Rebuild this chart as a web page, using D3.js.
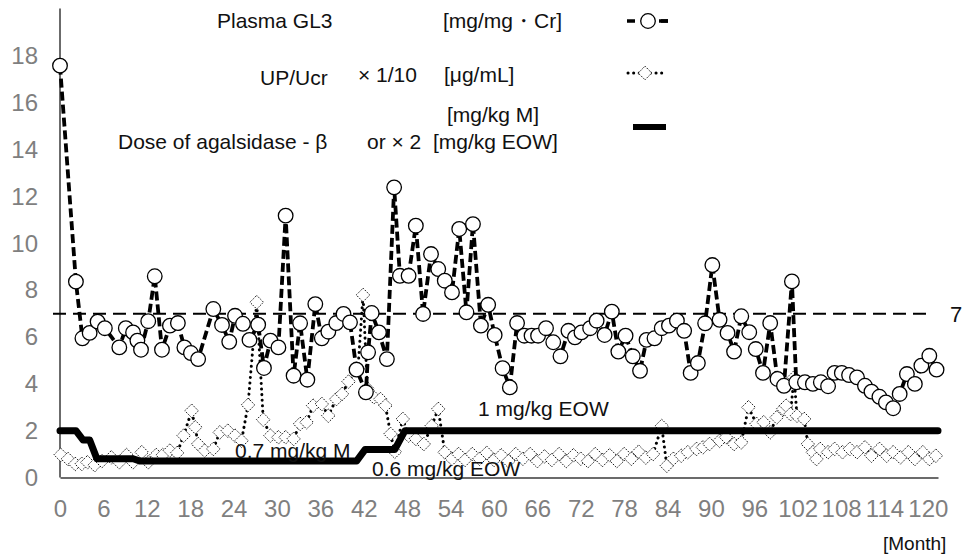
<!DOCTYPE html>
<html>
<head>
<meta charset="utf-8">
<script src="https://cdn.jsdelivr.net/npm/d3@7"></script>
<style>
  body { margin: 0; background: #fff; }
  svg text { font-family: "Liberation Sans", Arial, sans-serif; }
</style>
</head>
<body>
<svg id="chart" width="964" height="556"></svg>
<script>
// month ticks and y ticks
const monthTicks = d3.range(0, 121, 6);
const yTicks = [0, 2, 4, 6, 8, 10, 12, 14, 16, 18];
const threshold = 7;

// Plasma GL3 [month, value]
const gl3Months = [0, 2.2, 3.1, 4.1, 5.2, 6.2, 8.2, 9.1, 10.1, 10.7, 11.2, 12.2, 13.1, 14.1, 15.2, 16.3, 17.2, 18.1, 19.1,
  21.2, 22.4, 23.4, 24.2, 25.3, 26.2, 27.4, 28.2, 29.1, 30.2, 31.2, 32.3, 33.2, 34.2, 35.3, 36.2, 37.1, 38.2, 39.2, 40.1,
  41.0, 42.3, 42.6, 43.1, 44.1, 45.2, 46.2, 47.0, 48.2, 49.2, 50.2, 51.3, 52.3, 53.2, 54.2, 55.2, 56.2, 57.1, 58.2, 59.2,
  60.1, 61.2, 62.2, 63.2, 64.2, 65.2, 66.1, 67.2, 68.2, 69.2, 70.3, 71.2, 72.1, 73.3, 74.2, 75.3, 76.3, 77.2, 78.2, 79.2,
  80.2, 81.1, 82.2, 83.2, 84.2, 85.3, 86.3, 87.2, 88.2, 89.2, 90.2, 91.2, 92.3, 93.2, 94.2, 95.3, 96.2, 97.2, 98.2, 99.2,
  100.1, 101.2, 101.8, 103.0, 104.1, 105.2, 106.2, 107.1, 108.1, 109.1, 110.2, 111.3, 112.2, 113.3, 114.2, 115.2, 116.1,
  117.1, 118.2, 119.1, 120.2, 121.2];
const gl3Values = [17.6, 8.37, 5.95, 6.18, 6.66, 6.38, 5.56, 6.38, 6.2, 5.85, 5.46, 6.68, 8.6, 5.46, 6.49, 6.6, 5.56, 5.32, 5.06,
  7.2, 6.52, 5.8, 6.91, 6.57, 5.88, 6.53, 4.68, 5.85, 5.56, 11.19, 4.35, 6.59, 4.18, 7.41, 5.95, 6.23, 6.6, 6.99, 6.63,
  4.61, 3.64, 5.35, 7.03, 6.2, 5.06, 12.4, 8.62, 8.62, 10.76, 6.99, 9.55, 8.91, 8.41, 7.91, 10.62, 7.06, 10.83, 6.49, 7.38,
  6.09, 4.67, 3.85, 6.6, 6.06, 6.06, 6.06, 6.38, 5.78, 5.18, 6.27, 5.99, 6.2, 6.38, 6.7, 6.09, 7.09, 5.38, 6.06, 5.18,
  4.56, 5.88, 5.95, 6.38, 6.49, 6.7, 6.27, 4.47, 4.89, 6.59, 9.08, 6.74, 6.18, 5.38, 6.89, 6.21, 5.49, 4.47, 6.6, 4.21,
  3.92, 8.38, 4.07, 4.07, 4.0, 4.07, 3.9, 4.47, 4.47, 4.38, 4.28, 3.92, 3.67, 3.45, 3.21, 2.96, 3.57,
  4.42, 4.0, 4.78, 5.2, 4.61];

// UP/Ucr x 1/10
const upMonths = [0.1, 1.1, 2.1, 3.0, 3.8, 4.8, 5.8, 7.1, 8.2, 9.2, 10.1, 11.3, 12.2, 13.3, 14.2, 15.2, 16.2, 17.1, 18.2, 18.7,
  19.1, 20.0, 21.2, 22.1, 23.2, 24.2, 25.1, 26.0, 27.2, 28.1, 29.1, 30.2, 31.2, 32.3, 33.2, 34.1, 35.0, 36.2, 37.1, 38.2,
  39.0, 39.9, 41.2, 41.9, 42.5, 43.4, 44.3, 45.0, 45.7, 46.3, 47.4, 48.2, 49.2, 50.3, 51.4, 52.3, 53.2, 54.2, 55.1, 56.0,
  57.0, 58.0, 59.0, 60.0, 61.0, 62.0, 63.0, 64.0, 65.0, 66.0, 67.0, 68.0, 69.0, 70.0, 71.0, 72.0, 73.0, 74.0, 75.0, 76.0,
  77.0, 78.0, 79.0, 80.0, 81.0, 82.0, 83.2, 83.9, 84.8, 85.9, 86.8, 88.0, 88.9, 89.8, 91.2, 92.1, 93.2, 94.2, 95.2, 96.3,
  97.3, 98.2, 99.1, 100.0, 100.4, 101.0, 101.5, 101.9, 102.9, 103.4, 104.1, 104.6, 105.1, 106.2, 107.1, 108.2, 109.2,
  110.2, 111.3, 112.2, 113.3, 114.3, 115.2, 116.2, 117.3, 118.2, 119.3, 120.2, 121.1];
const upValues = [0.97, 0.79, 0.58, 0.58, 0.65, 0.53, 0.7, 0.86, 0.65, 0.96, 0.65, 1.08, 0.65, 0.96, 0.96, 1.15, 1.05, 1.79, 2.85, 2.15,
  1.43, 1.15, 1.22, 1.93, 2.0, 1.79, 1.57, 3.1, 7.49, 2.47, 1.79, 1.72, 1.72, 1.65, 2.29, 2.36, 3.07, 3.14, 2.64, 3.35,
  3.57, 4.1, 4.64, 7.8, 3.8, 3.43, 3.35, 3.07, 1.86, 1.1, 2.5, 1.79, 1.65, 1.43, 2.21, 2.93, 1.08, 0.8, 1.0, 0.75,
  1.0, 0.8, 1.05, 0.75, 0.95, 0.7, 1.0, 0.8, 1.0, 0.7, 0.9, 0.75, 1.0, 0.7, 0.95, 0.8, 0.7, 1.0, 0.75, 0.95,
  0.7, 1.0, 0.8, 1.1, 0.85, 1.0, 2.2, 0.5, 0.8, 0.93, 1.08, 1.22, 1.29, 1.43, 1.57, 1.72, 1.43, 1.5, 3.0, 2.29,
  2.36, 1.93, 2.57, 2.93, 3.07, 2.71, 4.28, 2.64, 2.5, 1.43, 1.08, 0.79, 1.22, 1.08, 1.22, 1.08, 1.22,
  1.08, 1.29, 0.93, 1.22, 0.93, 1.08, 0.86, 1.08, 0.79, 1.08, 0.79, 0.93];

// Dose of agalsidase-beta (mg/kg M, or x2 mg/kg EOW)
const doseMonths = [0, 2.2, 3.2, 4.1, 5.1, 10.1, 11.1, 41.0, 42.2, 46.3, 47.7, 121.4];
const doseValues = [2.0, 2.0, 1.6, 1.6, 0.8, 0.8, 0.7, 0.7, 1.2, 1.2, 2.0, 2.0];

const svg = d3.select('#chart');

const x = d3.scaleLinear().domain([0, 121.4]).range([60, 938]);
const y = d3.scaleLinear().domain([0, 20]).range([477.5, 9.5]);

// axes
const xAxis = svg.append('g')
  .attr('transform', `translate(0,${y(0)})`)
  .call(d3.axisBottom(x).tickValues(monthTicks).tickSize(0).tickPadding(22));
const yAxis = svg.append('g')
  .attr('transform', `translate(${x(0)},0)`)
  .call(d3.axisLeft(y).tickValues(yTicks).tickSize(0).tickPadding(22));

[xAxis, yAxis].forEach(a => {
  a.select('.domain').attr('stroke', '#3a3a3a').attr('stroke-width', 1.5);
  a.selectAll('text').attr('fill', '#7f7f7f').style('font-size', '24px');
});
yAxis.select('.domain').attr('d', `M0,${y(0)}V${y(0) - 469}`);

// threshold line
svg.append('line')
  .attr('x1', 53).attr('x2', 932)
  .attr('y1', y(threshold)).attr('y2', y(threshold))
  .attr('stroke', '#000').attr('stroke-width', 2)
  .attr('stroke-dasharray', '13,7');
svg.append('text')
  .attr('x', 950).attr('y', y(threshold) + 8)
  .style('font-size', '22px').attr('fill', '#111')
  .text('7');

const upData = upMonths.map((m, i) => [m, upValues[i]]);
const gl3Data = gl3Months.map((m, i) => [m, gl3Values[i]]);
const doseData = doseMonths.map((m, i) => [m, doseValues[i]]);

const line = d3.line().x(d => x(d[0])).y(d => y(d[1]));

// UP/Ucr series
svg.append('path')
  .datum(upData)
  .attr('d', line)
  .attr('fill', 'none')
  .attr('stroke', '#000')
  .attr('stroke-width', 3)
  .attr('stroke-linecap', 'round')
  .attr('stroke-dasharray', '0.1,5.5');

const diamond = r => `M0,${-r}L${r},0L0,${r}L${-r},0Z`;
svg.append('g').selectAll('path')
  .data(upData)
  .join('path')
  .attr('d', diamond(6.8))
  .attr('transform', d => `translate(${x(d[0])},${y(d[1])})`)
  .attr('fill', '#fff')
  .attr('stroke', '#000')
  .attr('stroke-width', 1)
  .attr('stroke-dasharray', '1.3,1.3');

// dose line
svg.append('path')
  .datum(doseData)
  .attr('d', line)
  .attr('fill', 'none')
  .attr('stroke', '#000')
  .attr('stroke-width', 7)
  .attr('stroke-linejoin', 'round')
  .attr('stroke-linecap', 'round');

// GL3 series
svg.append('path')
  .datum(gl3Data)
  .attr('d', line)
  .attr('fill', 'none')
  .attr('stroke', '#000')
  .attr('stroke-width', 3.8)
  .attr('stroke-dasharray', '9,4');

svg.append('g').selectAll('circle')
  .data(gl3Data)
  .join('circle')
  .attr('cx', d => x(d[0]))
  .attr('cy', d => y(d[1]))
  .attr('r', 7.3)
  .attr('fill', '#fff')
  .attr('stroke', '#000')
  .attr('stroke-width', 1.3);

// dose annotations
const notes = [
  { t: '1 mg/kg EOW', x: 478, y: 416 },
  { t: '0.7 mg/kg M', x: 235, y: 458 },
  { t: '0.6 mg/kg EOW', x: 372, y: 476 }
];
svg.append('g').selectAll('text')
  .data(notes)
  .join('text')
  .attr('x', d => d.x).attr('y', d => d.y)
  .style('font-size', '21px')
  .attr('fill', '#111')
  .text(d => d.t);

// legend
const legText = [
  { t: 'Plasma GL3', x: 217, y: 28 },
  { t: '[mg/mg・Cr]', x: 443, y: 28 },
  { t: 'UP/Ucr', x: 260, y: 85 },
  { t: '× 1/10', x: 358, y: 82 },
  { t: '[μg/mL]', x: 444, y: 82 },
  { t: '[mg/kg M]', x: 447, y: 122 },
  { t: 'Dose of agalsidase - β', x: 118, y: 149 },
  { t: 'or × 2  [mg/kg EOW]', x: 367, y: 149 }
];
svg.append('g').selectAll('text')
  .data(legText)
  .join('text')
  .attr('x', d => d.x).attr('y', d => d.y)
  .style('font-size', '21px')
  .style('white-space', 'pre')
  .attr('fill', '#111')
  .text(d => d.t);

const leg = svg.append('g');
leg.append('line').attr('x1', 627).attr('x2', 668).attr('y1', 21).attr('y2', 21)
  .attr('stroke', '#000').attr('stroke-width', 3.5).attr('stroke-dasharray', '8,26');
leg.append('line').attr('x1', 659).attr('x2', 668).attr('y1', 21).attr('y2', 21)
  .attr('stroke', '#000').attr('stroke-width', 3.5);
leg.append('circle').attr('cx', 648).attr('cy', 21).attr('r', 7.3)
  .attr('fill', '#fff').attr('stroke', '#000').attr('stroke-width', 1.3);

leg.append('line').attr('x1', 628).attr('x2', 663).attr('y1', 73).attr('y2', 73)
  .attr('stroke', '#000').attr('stroke-width', 3).attr('stroke-linecap', 'round')
  .attr('stroke-dasharray', '0.1,5.5');
leg.append('path').attr('d', diamond(6.8)).attr('transform', 'translate(645,73)')
  .attr('fill', '#fff').attr('stroke', '#000').attr('stroke-width', 1)
  .attr('stroke-dasharray', '1.3,1.3');

leg.append('line').attr('x1', 633).attr('x2', 666).attr('y1', 127).attr('y2', 127)
  .attr('stroke', '#000').attr('stroke-width', 6);

// axis unit
svg.append('text')
  .attr('x', 883).attr('y', 550)
  .style('font-size', '19px').attr('fill', '#111')
  .text('[Month]');
</script>
</body>
</html>
